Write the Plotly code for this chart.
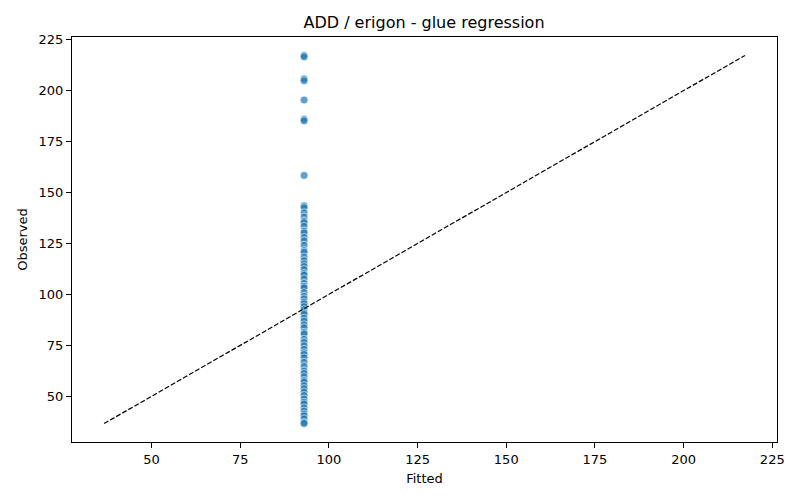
import plotly.graph_objects as go

observed = [
    217.3, 216.6, 205.8, 204.9, 195.4, 186.0, 185.2, 158.4,
    143.5, 142.6, 140.1, 138.0, 136.0, 135.2, 133.4, 131.1, 130.2, 128.0,
    126.3, 124.1, 121.5, 120.7, 118.4, 116.6, 115.0, 113.7, 112.2, 110.3,
    109.5, 107.6, 105.4, 104.0, 103.2, 100.9, 99.1, 97.8, 96.3, 95.4,
    94.0, 92.5, 91.0, 90.2, 88.3, 86.9, 85.1, 83.7, 81.4, 80.6, 78.0,
    76.5, 74.8, 73.1, 71.4, 70.5, 68.9, 66.7, 64.6, 62.4, 61.2, 59.6,
    57.8, 57.0, 55.2, 53.8, 52.1, 50.4, 48.7, 47.1, 46.2, 44.3, 42.8,
    41.3, 40.4, 38.9, 37.2, 36.6,
]
FITTED_VALUE = 93.0
fitted = [FITTED_VALUE] * len(observed)

tick_vals = [50, 75, 100, 125, 150, 175, 200, 225]

lo = min(min(observed), min(fitted))
hi = max(max(observed), max(fitted))
pad = (hi - lo) * 0.05

fig = go.Figure()

# points
fig.add_trace(go.Scatter(
    x=fitted, y=observed, mode="markers",
    marker=dict(size=8, color="#1f77b4", opacity=0.7,
                line=dict(color="white", width=0.8)),
    showlegend=False,
))

# y = x reference line
fig.add_trace(go.Scatter(
    x=[lo, hi], y=[lo, hi], mode="lines",
    line=dict(color="black", width=1.2, dash="5px,2px"),
    showlegend=False,
))

axis_style = dict(
    range=[lo - pad, hi + pad], tickvals=tick_vals,
    showline=True, linecolor="black", linewidth=1, mirror=True,
    ticks="outside", ticklen=5, tickcolor="black", tickwidth=1,
    showgrid=False, zeroline=False, automargin=False,
    tickfont=dict(size=13, color="black"),
)

fig.update_layout(
    width=800, height=500,
    paper_bgcolor="white", plot_bgcolor="white",
    font=dict(family="DejaVu Sans", color="black"),
    margin=dict(l=72, r=23, t=37, b=58),
    title=dict(text="ADD / erigon - glue regression", x=0.53, xanchor="center",
               y=0.955, yanchor="middle", font=dict(size=16)),
    xaxis=dict(title=dict(text="Fitted", font=dict(size=13), standoff=8), **axis_style),
    yaxis=dict(title=dict(text="Observed", font=dict(size=13), standoff=8), **axis_style),
)

# drop the page's default body margin so the figure sits at the top-left corner
fig.write_html("out.html", config={"displayModeBar": False},
               post_script="document.body.style.margin='0';")
